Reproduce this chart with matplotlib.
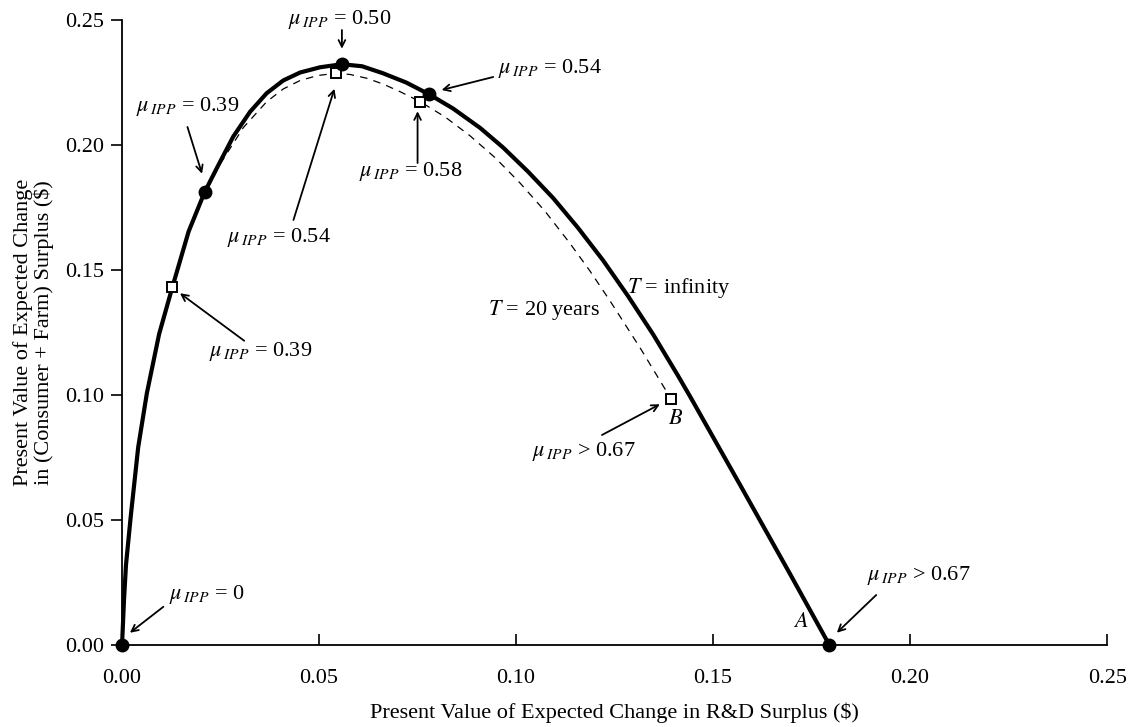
import matplotlib
matplotlib.use("Agg")
import matplotlib.pyplot as plt

plt.rcParams['font.family'] = ['Liberation Serif', 'DejaVu Serif']
plt.rcParams['mathtext.fontset'] = 'stix'

# T = infinity curve (R&D surplus, consumer + farm surplus)
inf_x = [0.0, 0.0005, 0.0010, 0.0022, 0.0041, 0.0063, 0.0094, 0.0128, 0.0169,
         0.0210, 0.0244, 0.0282, 0.0325, 0.0367, 0.0409, 0.0452, 0.0503, 0.0558,
         0.0609, 0.0662, 0.0721, 0.0779, 0.0840, 0.0909, 0.0967, 0.1030, 0.1094,
         0.1157, 0.1221, 0.1284, 0.1348, 0.1411, 0.1442, 0.1569, 0.1695, 0.1795]
inf_y = [0.0, 0.0180, 0.0320, 0.0513, 0.0791, 0.1007, 0.1243, 0.1433, 0.1654,
         0.1813, 0.1918, 0.2033, 0.2133, 0.2207, 0.2258, 0.2290, 0.2311, 0.2323,
         0.2315, 0.2287, 0.2250, 0.2203, 0.2146, 0.2068, 0.1990, 0.1894, 0.1788,
         0.1669, 0.1538, 0.1396, 0.1242, 0.1077, 0.0993, 0.0639, 0.0285, 0.0]

# T = 20 years curve
t20_x = [0.0, 0.0005, 0.0010, 0.0022, 0.0041, 0.0063, 0.0094, 0.0128, 0.0169,
         0.0210, 0.0249, 0.0308, 0.0367, 0.0409, 0.0452, 0.0497, 0.0543, 0.0579,
         0.0621, 0.0662, 0.0706, 0.0757, 0.0820, 0.0883, 0.0947, 0.1010, 0.1074,
         0.1137, 0.1188, 0.1239, 0.1315, 0.1393]
t20_y = [0.0, 0.0180, 0.0320, 0.0513, 0.0791, 0.1007, 0.1243, 0.1433, 0.1648,
         0.1804, 0.1924, 0.2070, 0.2173, 0.2224, 0.2258, 0.2278, 0.2287, 0.2282,
         0.2267, 0.2244, 0.2213, 0.2173, 0.2112, 0.2037, 0.1949, 0.1848, 0.1734,
         0.1606, 0.1495, 0.1375, 0.1188, 0.0985]

# highlighted points
inf_pts_x = [0.0, 0.0210, 0.0558, 0.0779, 0.1795]
inf_pts_y = [0.0, 0.1813, 0.2323, 0.2203, 0.0]
t20_pts_x = [0.0128, 0.0543, 0.0757, 0.1393]
t20_pts_y = [0.1433, 0.2287, 0.2173, 0.0985]

# labels: (text, text position, arrow start, arrow end)
MU = r'$\mu_{\,IPP}$'
labels = [
    (MU + ' = 0.50', (0.0551, 0.2500), (0.0558, 0.2460), (0.0558, 0.2385)),
    (MU + ' = 0.39', (0.0166, 0.2152), (0.0166, 0.2072), (0.0203, 0.1885)),
    (MU + ' = 0.54', (0.0397, 0.1628), (0.0435, 0.1700), (0.0539, 0.2225)),
    (MU + ' = 0.58', (0.0732, 0.1893), (0.0750, 0.1928), (0.0750, 0.2135)),
    (MU + ' = 0.54', (0.1086, 0.2307), (0.0942, 0.2272), (0.0811, 0.2220)),
    (MU + ' = 0.39', (0.0352, 0.1173), (0.0310, 0.1217), (0.0147, 0.1407)),
    (MU + ' = 0', (0.0216, 0.0200), (0.0105, 0.0153), (0.0020, 0.0049)),
    (MU + ' > 0.67', (0.1171, 0.0773), (0.1218, 0.0840), (0.1365, 0.0963)),
    (MU + ' > 0.67', (0.2022, 0.0276), (0.1914, 0.0200), (0.1814, 0.0049)),
]

fig = plt.figure(figsize=(11.31, 7.27), dpi=100)
ax = fig.add_axes([0.1079, 0.1128, 0.8710, 0.8597])

ax.plot(t20_x, t20_y, color='black', lw=0.9, ls=(0, (6, 5)), clip_on=False, zorder=2)
ax.plot(inf_x, inf_y, color='black', lw=3.0, clip_on=False, zorder=3,
        solid_joinstyle='round')
ax.plot(t20_pts_x, t20_pts_y, ls='none', marker='s', ms=7.5, mfc='white',
        mec='black', mew=1.4, clip_on=False, zorder=4)
ax.plot(inf_pts_x, inf_pts_y, ls='none', marker='o', ms=9, color='black',
        clip_on=False, zorder=5)

for txt, tpos, a0, a1 in labels:
    ax.text(tpos[0], tpos[1], txt, ha='center', va='center', fontsize=16,
            clip_on=False)
    ax.annotate('', xy=a1, xytext=a0, annotation_clip=False,
                arrowprops=dict(arrowstyle='->', lw=1.3, color='black',
                                shrinkA=0, shrinkB=0, mutation_scale=12))

ax.text(0.1282, 0.1427, '$T$ = infinity', fontsize=16, ha='left', va='center')
ax.text(0.0929, 0.1340, '$T$ = 20 years', fontsize=16, ha='left', va='center')
ax.text(0.1406, 0.0900, '$B$', fontsize=16, ha='center', va='center')
ax.text(0.1723, 0.0089, '$A$', fontsize=16, ha='center', va='center')

ax.set_xlim(0, 0.25)
ax.set_ylim(0, 0.25)
ticks = [0.0, 0.05, 0.10, 0.15, 0.20, 0.25]
ax.set_xticks(ticks)
ax.set_yticks(ticks)
ax.set_xticklabels([f'{t:.2f}' for t in ticks])
ax.set_yticklabels([f'{t:.2f}' for t in ticks])
ax.tick_params(axis='x', direction='in', length=8, width=1.2, pad=17, labelsize=16)
ax.tick_params(axis='y', direction='out', length=8, width=1.2, pad=5, labelsize=16)

for s in ['top', 'right']:
    ax.spines[s].set_visible(False)
for s in ['left', 'bottom']:
    ax.spines[s].set_linewidth(1.3)

ax.set_xlabel('Present Value of Expected Change in R&D Surplus (\\$)', fontsize=16, labelpad=11)
ax.set_ylabel('Present Value of Expected Change\nin (Consumer + Farm) Surplus (\\$)',
              fontsize=16, labelpad=8, linespacing=1.0)

fig.savefig('out.png', dpi=100)
